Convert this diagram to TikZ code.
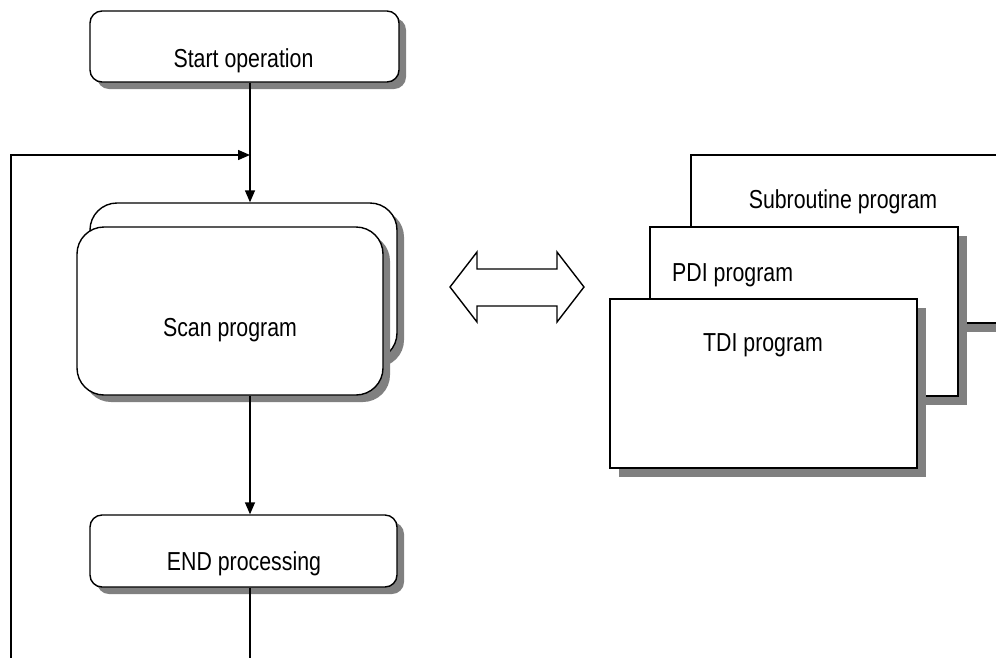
\documentclass[tikz,border=0pt]{standalone}
\usepackage{fontspec}
\setmainfont{Liberation Sans}[FakeStretch=0.82]
\usetikzlibrary{arrows.meta,shadows,calc}
\definecolor{shadowgray}{HTML}{808080}
\tikzset{
  ln/.style={line width=1.4pt},
  arr/.style={ln, -{Triangle[length=12pt,width=10pt]}},
  rbox/.style={draw, ln, fill=white, rounded corners=#1, inner sep=0pt,
    drop shadow={shadow xshift=7pt, shadow yshift=-7pt, fill=shadowgray, opacity=1}},
  sbox/.style={draw, ln, fill=white, inner sep=0pt,
    drop shadow={shadow xshift=9pt, shadow yshift=-9pt, fill=shadowgray, opacity=1}},
  txt/.style={font=\fontsize{26}{30}\selectfont, inner sep=0pt, anchor=base}
}
\begin{document}
\begin{tikzpicture}[x=1pt,y=-1pt]
\useasboundingbox (0,0) rectangle (996,657);
\clip (0,0) rectangle (996,657);
\fill[white] (0,0) rectangle (996,657);
% coordinates
\coordinate (cx) at (250,0);
\coordinate (join) at (250,155);
\coordinate (loopbot) at (11,659);
\coordinate (endbot) at (250,659);
% start
\node[rbox=12pt, minimum width=309pt, minimum height=71pt] (start) at (244.5,46.5) {};
\node[txt] (starttxt) at (243.5,67) {Start operation};
% scan program (stacked)
\node[rbox=27pt, minimum width=307pt, minimum height=157pt] (scanback) at (243.5,281.5) {};
\node[rbox=27pt, minimum width=306pt, minimum height=168pt] (scan) at (230,311) {};
\node[txt] (scantxt) at (230,336) {Scan program};
% end processing
\node[rbox=12pt, minimum width=307pt, minimum height=72pt] (endp) at (243.5,551) {};
\node[txt] (endtxt) at (244,570) {END processing};
% connectors
\draw[arr] (start.south -| cx) -- (scanback.north -| cx);
\draw[arr] (loopbot) |- (join);
\draw[arr] (scan.south -| cx) -- (endp.north -| cx);
\draw[ln] (endp.south -| cx) -- (endbot);
% double arrow
\draw[ln, fill=white, line join=miter] (450,287) -- (477,252) -- (477,269) -- (557,269) -- (557,252)
  -- (584,287) -- (557,322) -- (557,306) -- (477,306) -- (477,322) -- cycle;
% right stack
\node[sbox, minimum width=330pt, minimum height=168pt] (sub) at (856,239) {};
\node[txt] (subtxt) at (843,208) {Subroutine program};
\node[sbox, minimum width=308pt, minimum height=169pt] (pdi) at (804,311.5) {};
\node[txt, anchor=base west] (pditxt) at (672,281) {PDI program};
\node[sbox, minimum width=307pt, minimum height=169pt] (tdi) at (763.5,383.5) {};
\node[txt] (tditxt) at (763,351) {TDI program};
\end{tikzpicture}
\end{document}
